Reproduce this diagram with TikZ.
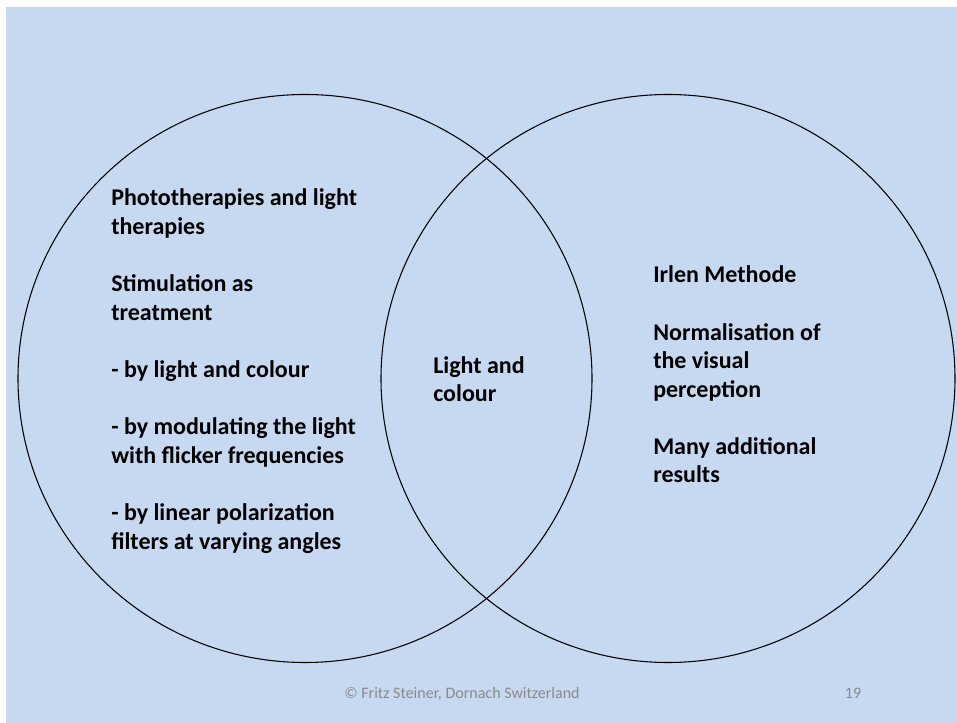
\documentclass[tikz,border=0pt]{standalone}
\usepackage{fontspec}
\setmainfont{Carlito}
\usepackage{xcolor}
\usetikzlibrary{positioning}
\definecolor{slideblue}{HTML}{C6D9F0}
\definecolor{footgrey}{HTML}{8A8A8A}

\begin{document}
\begin{tikzpicture}[x=0.75pt,y=-0.75pt]
            \tikzstyle{set} = [draw=black, line width=0.8pt]
            \tikzstyle{txt} = [anchor=base west, align=left, inner sep=0pt, font=\fontsize{18}{21.45}\selectfont\bfseries]
            \tikzstyle{foot} = [anchor=base, inner sep=0pt, text=footgrey, font=\fontsize{12}{14}\selectfont]

            % slide background
            \useasboundingbox (0,0) rectangle (957,723);
            \fill [white] (0,0) rectangle (957,723);
            \fill [slideblue] (6,7) rectangle (957,723);

            % the two sets
            \draw [set] (305,378.5) ellipse [x radius=287, y radius=284];
            \draw [set] (668,378.5) ellipse [x radius=287, y radius=284];

            % base anchor sits on the last line
            \node [txt] (therapies) at (111,549) {Phototherapies and light\\therapies\\ \\Stimulation as\\treatment\\ \\- by light and colour\\ \\- by modulating the light\\with flicker frequencies\\ \\- by linear polarization\\filters at varying angles};
            \node [txt] (common) at (433,402) {Light and\\colour};
            \node [txt] (irlen) at (653,483) {Irlen Methode\\ \\Normalisation of\\the visual\\perception\\ \\Many additional\\results};

            \node [foot] (credit) at (462,698) {© Fritz Steiner, Dornach Switzerland};
            \node [foot] (page) at (853,698) {19};
        \end{tikzpicture}
\end{document}
